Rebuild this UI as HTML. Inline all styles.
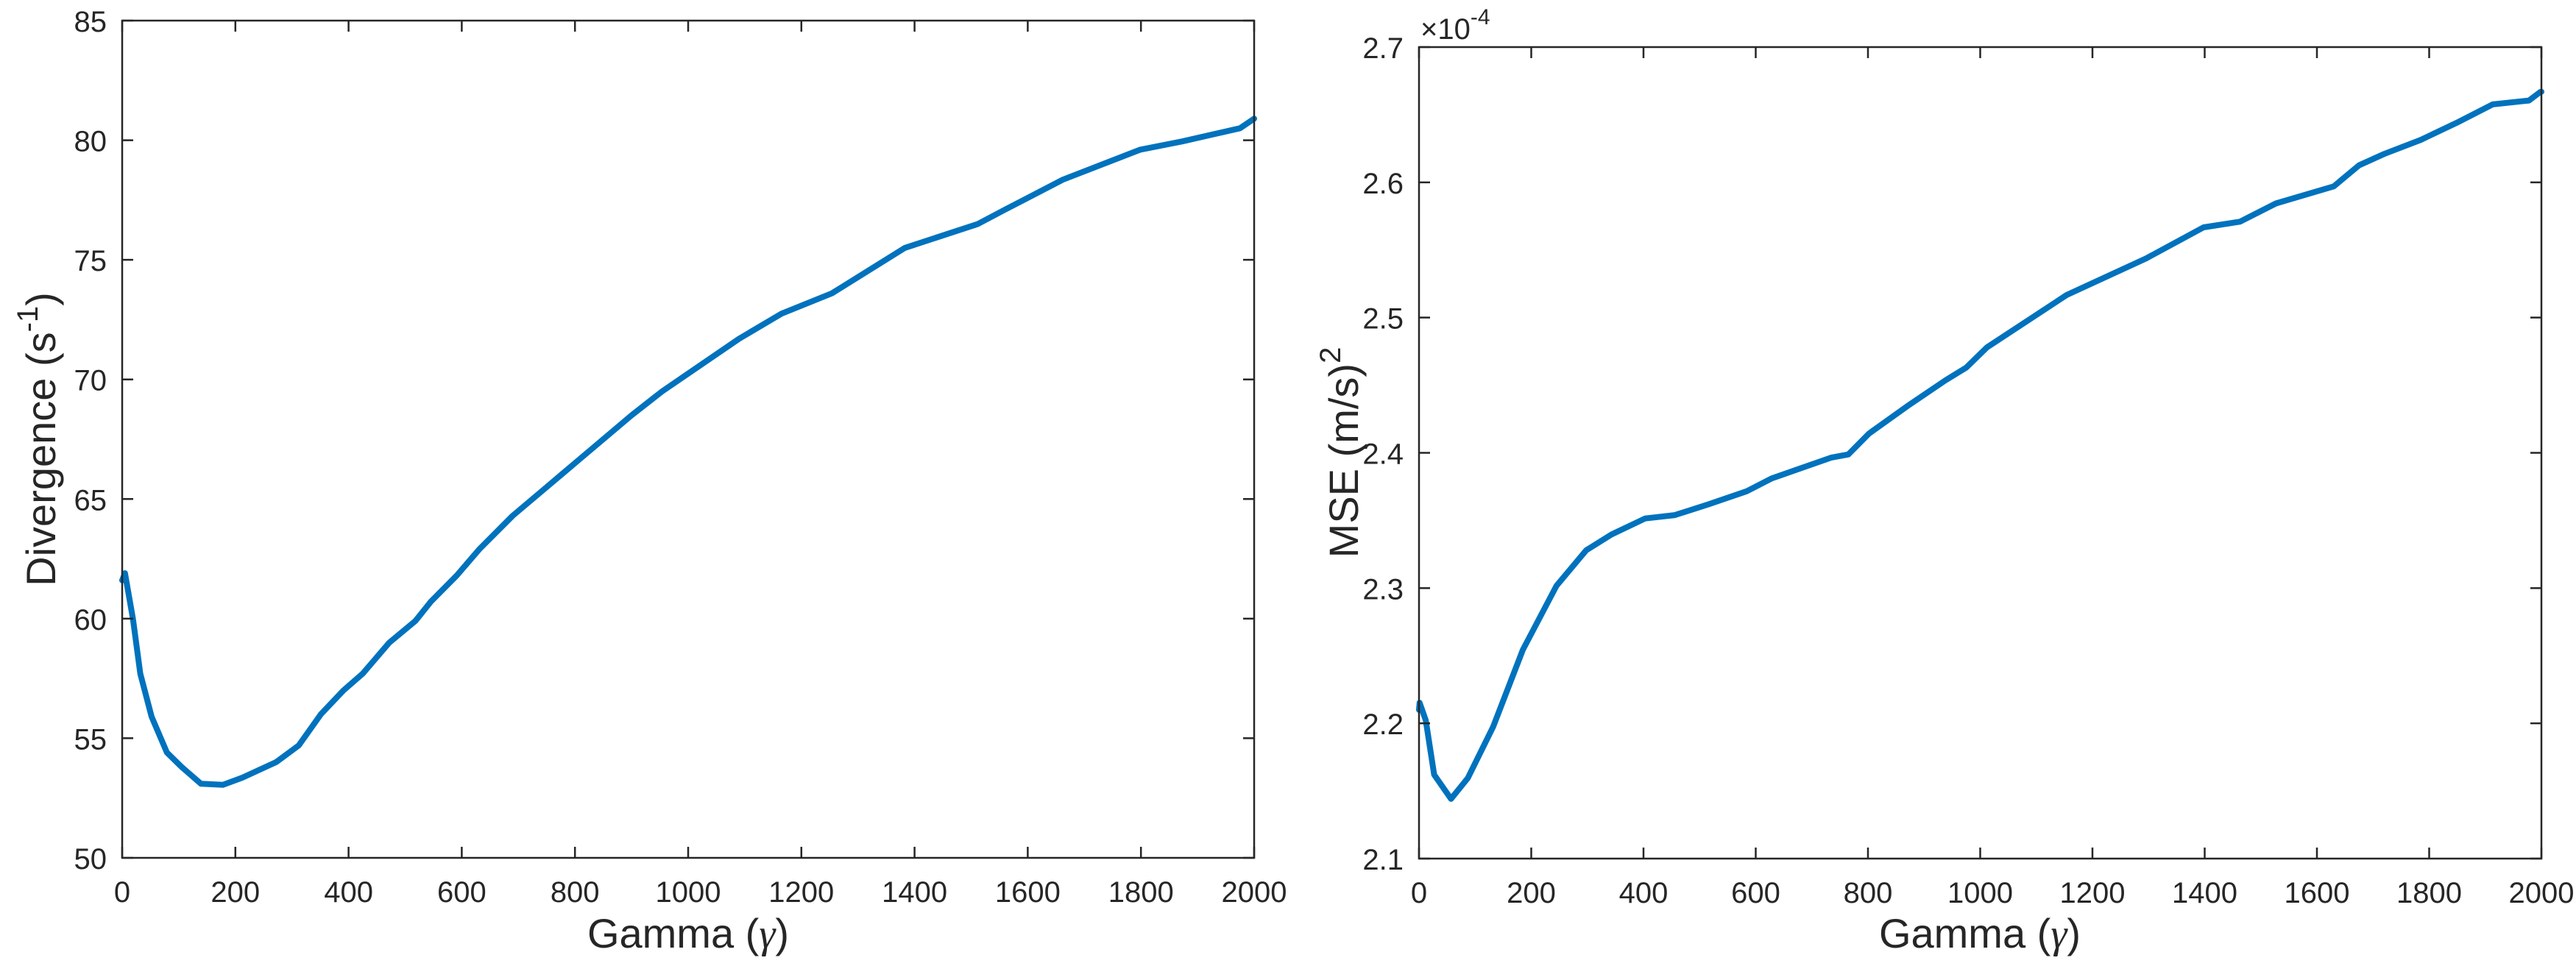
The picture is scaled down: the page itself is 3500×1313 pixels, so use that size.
<!DOCTYPE html>
<html><head><meta charset="utf-8">
<style>
html,body{margin:0;padding:0;background:#fff;}
svg{display:block;font-family:"Liberation Sans",Arial,sans-serif;}
</style></head>
<body>
<svg id="fig" width="3500" height="1313" viewBox="0 0 3500 1313" xmlns="http://www.w3.org/2000/svg">
<rect x="0" y="0" width="3500" height="1313" fill="#fff"/>
<g id="left"></g>
<g id="right"></g>
</svg>
<script>
// ----- Left chart data: Divergence vs Gamma -----
const divGamma = [0,5,19,32,52,79,105,139,178,212,272,312,351,391,425,472,518,545,591,631,690,750,800,900,954,1090,1165,1254,1383,1512,1560,1662,1798,1873,1975,2000];
const divValues = [61.6,61.9,60.0,57.7,55.9,54.4,53.8,53.1,53.05,53.35,54.0,54.7,56.0,57.0,57.7,59.0,59.9,60.7,61.8,62.9,64.3,65.5,66.5,68.5,69.5,71.7,72.75,73.6,75.5,76.5,77.1,78.35,79.6,79.95,80.5,80.9];
const divXTicks = [0,200,400,600,800,1000,1200,1400,1600,1800,2000];
const divYTicks = [50,55,60,65,70,75,80,85];

// ----- Right chart data: MSE vs Gamma (x1e-4) -----
const mseGamma = [0,1,12,27,57,87,132,185,245,298,343,403,456,516,584,629,734,765,802,870,938,975,1012,1154,1296,1398,1463,1527,1630,1675,1720,1785,1849,1913,1978,1998,2000];
const mseValues = [2.21,2.2152,2.2022,2.162,2.1441,2.1595,2.1974,2.2544,2.3017,2.328,2.3396,2.3515,2.354,2.362,2.3716,2.3812,2.3964,2.3988,2.4143,2.4345,2.4536,2.463,2.478,2.5167,2.5438,2.5667,2.5709,2.5844,2.597,2.6126,2.621,2.6314,2.644,2.6576,2.6605,2.6668,2.667];
const mseXTicks = [0,200,400,600,800,1000,1200,1400,1600,1800,2000];
const mseYTicks = [2.1,2.2,2.3,2.4,2.5,2.6,2.7];

const NS = "http://www.w3.org/2000/svg";
function mk(tag, attrs, parent){
  const e = document.createElementNS(NS, tag);
  for (const k in attrs) e.setAttribute(k, attrs[k]);
  parent.appendChild(e);
  return e;
}

function drawChart(g, box, xDom, yDom, xs, ys, xTicks, yTicks, yFmt){
  const sx = v => box.x0 + (v - xDom[0]) / (xDom[1] - xDom[0]) * (box.x1 - box.x0);
  const sy = v => box.y1 - (v - yDom[0]) / (yDom[1] - yDom[0]) * (box.y1 - box.y0);
  const ax = "#262626";
  // line
  let d = "";
  for (let i = 0; i < xs.length; i++) d += (i ? "L" : "M") + sx(xs[i]).toFixed(1) + "," + sy(ys[i]).toFixed(1);
  const p = mk("path", {d: d, fill: "none", stroke: "#0072BD", "stroke-width": 8, "stroke-linejoin": "round", "stroke-linecap": "round"}, g);
  
  
  // box
  const r = mk("rect", {x: box.x0, y: box.y0, width: box.x1 - box.x0, height: box.y1 - box.y0, fill: "none", stroke: ax, "stroke-width": 2.5}, g);
  
  
  const tl = 15;
  xTicks.forEach(t => {
    const x = sx(t);
    const tk = mk("path", {d: `M${x},${box.y1}V${box.y1 - tl}M${x},${box.y0}V${box.y0 + tl}`, stroke: ax, "stroke-width": 2.5}, g);
    
    
    const tx = mk("text", {x: x, y: box.y1 + 60, "text-anchor": "middle", "font-size": 40, fill: ax}, g);
    tx.textContent = String(t);
    
    
  });
  yTicks.forEach(t => {
    const y = sy(t);
    const tk = mk("path", {d: `M${box.x0},${y}H${box.x0 + tl}M${box.x1},${y}H${box.x1 - tl}`, stroke: ax, "stroke-width": 2.5}, g);
    
    
    const tx = mk("text", {x: box.x0 - 21, y: y + 15, "text-anchor": "end", "font-size": 40, fill: ax}, g);
    tx.textContent = yFmt(t);
    
    
  });
}

const L = document.getElementById("left");
const R = document.getElementById("right");
drawChart(L, {x0:166, x1:1704, y0:28, y1:1166}, [0,2000], [50,85], divGamma, divValues, divXTicks, divYTicks, v => String(v));
drawChart(R, {x0:1928, x1:3453, y0:64, y1:1167}, [0,2000], [2.1,2.7], mseGamma, mseValues, mseXTicks, mseYTicks, v => v.toFixed(1));

// axis labels
function label(parent, html, attrs, name){
  const t = mk("text", attrs, parent);
  t.innerHTML = html;
  
  
  return t;
}
label(L, 'Gamma (<tspan font-family="Liberation Serif, serif" font-style="italic">γ</tspan>)', {x: 935, y: 1288, "text-anchor": "middle", "font-size": 56, fill: "#262626"}, 'x-axis-title');
label(L, 'Divergence (s<tspan dy="-24" font-size="40">-1</tspan><tspan dy="24">)</tspan>', {x: 0, y: 0, "text-anchor": "middle", "font-size": 56, fill: "#262626", transform: "translate(75,597) rotate(-90)"}, 'y-axis-title');
label(R, 'Gamma (<tspan font-family="Liberation Serif, serif" font-style="italic">γ</tspan>)', {x: 2690, y: 1288, "text-anchor": "middle", "font-size": 56, fill: "#262626"}, 'x-axis-title');
label(R, 'MSE (m/s)<tspan dy="-24" font-size="40">2</tspan>', {x: 0, y: 0, "text-anchor": "middle", "font-size": 56, fill: "#262626", transform: "translate(1845,615) rotate(-90)"}, 'y-axis-title');
label(R, '×10<tspan dy="-20" font-size="30">-4</tspan>', {x: 1930, y: 53, "font-size": 40, fill: "#262626"}, 'y-axis-exponent');
</script>
</body></html>
